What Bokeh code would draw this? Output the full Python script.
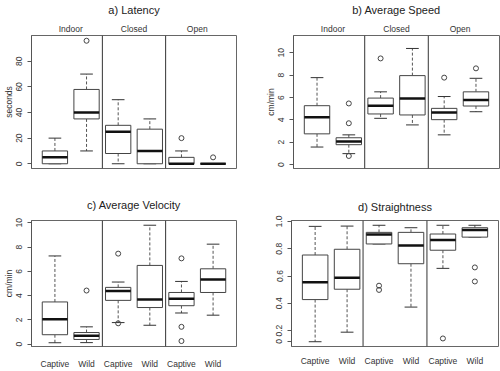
from bokeh.plotting import figure
from bokeh.layouts import column, row
from bokeh.models import (LinearAxis, FixedTicker, Span, ColumnDataSource)
from bokeh.transform import dodge
from bokeh.embed import file_html
from bokeh.resources import INLINE

FONT = "Liberation Sans"

# ---------------- data ----------------
positions = [1, 2, 3, 4, 5, 6]
groups = ["Indoor", "Closed", "Open"]
group_pos = [1.5, 3.5, 5.5]
separators = [2.5, 4.5]
origin_labels = ["Captive", "Wild", "Captive", "Wild", "Captive", "Wild"]

# a) Latency (seconds)
lat_lw = [0, 10, 0, 0, 0, 0]
lat_q1 = [0, 35, 8, 0, 0, 0]
lat_med = [5, 40, 25, 10, 0, 0]
lat_q3 = [10, 58, 30, 27, 5, 0]
lat_uw = [20, 70, 50, 35, 10, 0]
lat_out_x = [2, 5, 6]
lat_out_y = [96, 20, 5]
lat_ticks = [0, 20, 40, 60, 80]

# b) Average Speed (cm/min)
spd_lw = [1.57, 0.98, 4.14, 3.55, 2.66, 4.73]
spd_q1 = [2.75, 1.78, 4.53, 4.44, 4.02, 5.24]
spd_med = [4.23, 2.07, 5.27, 5.92, 4.67, 5.77]
spd_q3 = [5.27, 2.40, 5.95, 7.96, 5.03, 6.51]
spd_uw = [7.78, 2.66, 6.51, 10.39, 6.09, 7.72]
spd_out_x = [2, 2, 2, 3, 5, 6]
spd_out_y = [5.47, 3.70, 0.77, 9.50, 7.78, 8.61]
spd_ticks = [0, 2, 4, 6, 8, 10]

# c) Average Velocity (cm/min)
vel_lw = [0.12, 0.13, 1.78, 1.56, 2.57, 2.39]
vel_q1 = [0.78, 0.39, 3.61, 3.02, 3.17, 4.26]
vel_med = [2.05, 0.70, 4.39, 3.69, 3.74, 5.32]
vel_q3 = [3.48, 0.96, 4.68, 6.49, 4.26, 6.21]
vel_uw = [7.27, 1.43, 5.12, 9.80, 5.17, 8.24]
vel_out_x = [2, 3, 3, 5, 5, 5]
vel_out_y = [4.42, 7.46, 1.72, 7.07, 1.43, 0.26]
vel_ticks = [0, 2, 4, 6, 8, 10]

# d) Straightness
str_lw = [0.118, 0.188, 0.835, 0.372, 0.656, 0.885]
str_q1 = [0.427, 0.503, 0.835, 0.690, 0.789, 0.885]
str_med = [0.554, 0.587, 0.904, 0.823, 0.864, 0.938]
str_q3 = [0.754, 0.796, 0.920, 0.920, 0.908, 0.954]
str_uw = [0.964, 0.966, 0.972, 0.954, 0.972, 0.972]
str_out_x = [3, 3, 5, 6, 6]
str_out_y = [0.529, 0.498, 0.142, 0.663, 0.560]
str_ticks = [0.12, 0.2, 0.4, 0.6, 0.8, 1.0]
str_tick_labels = {0.12: "0", 0.2: "0.2", 0.4: "0.4", 0.6: "0.6", 0.8: "0.8", 1.0: "1.0"}


def panel(title, ylab, yr, ticks, lw, q1, med, q3, uw, ox, oy,
          width, height, borders, top_labels, bottom_labels,
          tick_overrides=None, title_standoff=6, bottom_standoff=8):
    bl, br, bt, bb = borders
    p = figure(width=width, height=height, x_range=(0.26, 6.74), y_range=yr,
               output_backend="svg", toolbar_location=None,
               x_axis_type=None if not bottom_labels else "linear",
               min_border_left=bl, min_border_right=br,
               min_border_top=bt, min_border_bottom=bb)
    p.grid.visible = False
    p.outline_line_color = "#666"
    p.outline_line_width = 1
    p.background_fill_color = "white"
    p.border_fill_color = "white"

    ya = p.yaxis[0]
    ya.ticker = FixedTicker(ticks=ticks)
    if tick_overrides:
        ya.major_label_overrides = tick_overrides
    ya.major_label_orientation = "vertical"
    ya.major_label_text_font = FONT
    ya.major_label_text_font_size = "8.5px"
    ya.major_label_text_color = "#333"
    ya.major_tick_out = 4
    ya.major_tick_in = 0
    ya.minor_tick_line_color = None
    ya.major_tick_line_color = "#555"
    ya.axis_line_color = "#555"
    ya.major_label_standoff = 5
    if ylab:
        ya.axis_label = ylab
        ya.axis_label_text_font = FONT
        ya.axis_label_text_font_size = "8.5px"
        ya.axis_label_text_font_style = "normal"
        ya.axis_label_text_color = "#333"
        ya.axis_label_standoff = 0

    if bottom_labels:
        xa = p.xaxis[0]
        xa.ticker = FixedTicker(ticks=positions)
        xa.major_label_overrides = {k: v for k, v in zip(positions, bottom_labels)}
        xa.axis_line_color = None
        xa.major_tick_line_color = None
        xa.major_tick_out = 0
        xa.major_tick_in = 0
        xa.minor_tick_line_color = None
        xa.major_label_text_font = FONT
        xa.major_label_text_font_size = "8.5px"
        xa.major_label_text_color = "#333"
        xa.major_label_standoff = bottom_standoff

    if top_labels:
        # group names above the frame, with the panel title as the axis label
        ta = LinearAxis(ticker=FixedTicker(ticks=group_pos),
                        major_label_overrides={k: v for k, v in zip(group_pos, top_labels)})
        ta.axis_line_color = None
        ta.major_tick_line_color = None
        ta.major_tick_out = 0
        ta.major_tick_in = 0
        ta.minor_tick_line_color = None
        ta.major_label_text_font = FONT
        ta.major_label_text_font_size = "8.5px"
        ta.major_label_text_color = "#333"
        ta.major_label_standoff = 2
        ta.axis_label = title
        ta.axis_label_text_font = FONT
        ta.axis_label_text_font_size = "11px"
        ta.axis_label_text_font_style = "normal"
        ta.axis_label_text_color = "#222"
        ta.axis_label_standoff = 5
        p.add_layout(ta, "above")
    else:
        p.title.text = title
        p.title.align = "center"
        p.title.text_font = FONT
        p.title.text_font_size = "11px"
        p.title.text_font_style = "normal"
        p.title.text_color = "#222"
        p.title.standoff = title_standoff

    for s in separators:
        p.add_layout(Span(location=s, dimension="height", line_color="#333", line_width=1))

    src = ColumnDataSource(dict(x=positions, lw=lw, q1=q1, med=med, q3=q3, uw=uw))
    p.segment(x0="x", x1="x", y0="q3", y1="uw", source=src,
              line_color="#555", line_dash="3 2", line_width=1)
    p.segment(x0="x", x1="x", y0="q1", y1="lw", source=src,
              line_color="#555", line_dash="3 2", line_width=1)
    p.segment(x0=dodge("x", -0.2), x1=dodge("x", 0.2), y0="uw", y1="uw", source=src,
              line_color="#333", line_width=1)
    p.segment(x0=dodge("x", -0.2), x1=dodge("x", 0.2), y0="lw", y1="lw", source=src,
              line_color="#333", line_width=1)
    p.vbar(x="x", width=0.8, top="q3", bottom="q1", source=src,
           fill_color="white", line_color="#444", line_width=1)
    p.segment(x0=dodge("x", -0.4), x1=dodge("x", 0.4), y0="med", y1="med", source=src,
              line_color="#111", line_width=2.5)
    p.scatter(x=ox, y=oy, marker="circle", size=5, fill_color=None,
              line_color="#444", line_width=1)
    return p


pa = panel("a) Latency", "seconds", (-3.7, 100.1), lat_ticks,
           lat_lw, lat_q1, lat_med, lat_q3, lat_uw, lat_out_x, lat_out_y,
           250, 185, (30, 14, 34, 16), groups, None)
pb = panel("b) Average Speed", "cm/min", (-0.35, 11.55), spd_ticks,
           spd_lw, spd_q1, spd_med, spd_q3, spd_uw, spd_out_x, spd_out_y,
           250, 185, (43, 1, 34, 17), groups, None)
pc = panel("c) Average Velocity", "cm/min", (-0.19, 10.19), vel_ticks,
           vel_lw, vel_q1, vel_med, vel_q3, vel_uw, vel_out_x, vel_out_y,
           250, 186, (30, 14, 32, 20), None, origin_labels,
           title_standoff=19, bottom_standoff=12)
pd_ = panel("d) Straightness", None, (0.083, 1.007), str_ticks,
            str_lw, str_q1, str_med, str_q3, str_uw, str_out_x, str_out_y,
            250, 186, (41, 2, 35, 17), None, origin_labels,
            tick_overrides=str_tick_labels, title_standoff=15, bottom_standoff=9)

layout = column(row(pa, pb), row(pc, pd_))
open("out.html", "w").write(file_html(layout, INLINE))
